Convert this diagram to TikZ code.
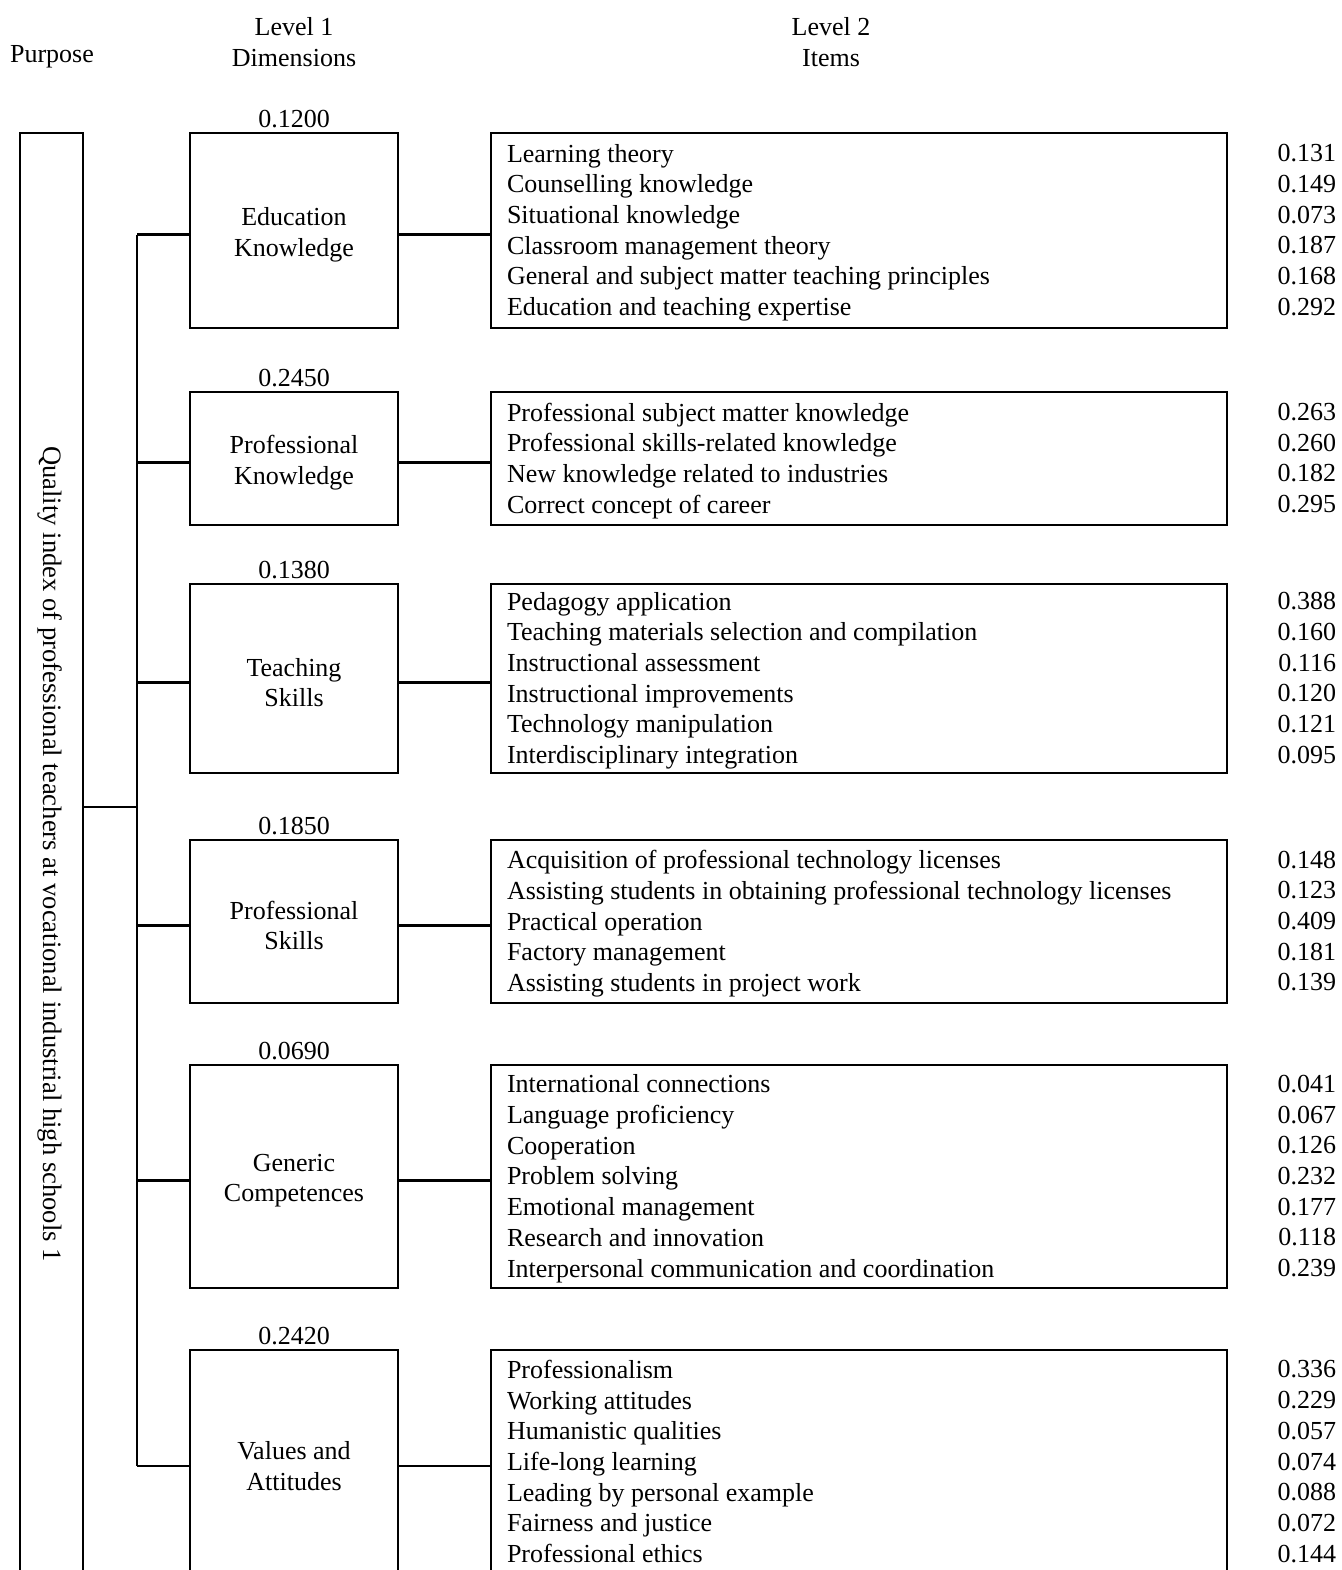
\documentclass[tikz,border=0pt]{standalone}
\usepackage{fontspec}
\setmainfont{Liberation Serif}
\begin{document}
\begin{tikzpicture}[x=0.5pt,y=-0.5pt,
  every node/.style={font=\fontsize{13pt}{15.35pt}\selectfont, inner sep=0pt, outer sep=0pt},
  dimbox/.style={draw, line width=1.1pt, minimum width=104pt, align=center},
  dimtext/.style={align=center},
  itembox/.style={draw, line width=1.1pt, minimum width=368pt},
  itemtext/.style={align=left, anchor=west, execute at begin node=\strut, execute at end node=\strut},
  weights/.style={align=right, anchor=east, execute at begin node=\strut, execute at end node=\strut},
  dimweight/.style={anchor=base},
  conn/.style={line width=1.1pt}
]
\useasboundingbox (0,0) rectangle (1341,1570);
\clip (0,0) rectangle (1341,1570);

% headers
\node (hp) at (52,57) {Purpose};
\node[align=center] (h1) at (294,42) {Level 1\\Dimensions};
\node[align=center] (h2) at (831,42) {Level 2\\Items};

% purpose box
\node[draw, line width=1.1pt, minimum width=31.5pt, minimum height=721pt] (purpose) at (51.5,854) {};
\node[rotate=-90, font=\fontsize{13.3pt}{15.35pt}\selectfont] (ptext) at (49.5,854) {Quality index of professional teachers at vocational industrial high schools 1};

\coordinate (trunk) at (137,0);
\coordinate (pj) at (137,807);

% dimension boxes
\node[dimbox, minimum height=97.5pt] (d1) at (294,230.5) {};
\node[dimbox, minimum height=66.5pt] (d2) at (294,458.5) {};
\node[dimbox, minimum height=94.5pt] (d3) at (294,678.5) {};
\node[dimbox, minimum height=81.5pt] (d4) at (294,921.5) {};
\node[dimbox, minimum height=111.5pt] (d5) at (294,1176.5) {};
\node[dimbox, minimum height=112pt] (d6) at (294,1462) {};

\node[dimtext] (dt1) at ([yshift=-2pt]d1.center) {Education\\Knowledge};
\node[dimtext] (dt2) at ([yshift=-2pt]d2.center) {Professional\\Knowledge};
\node[dimtext] (dt3) at ([yshift=-2pt]d3.center) {Teaching\\Skills};
\node[dimtext] (dt4) at ([yshift=-2pt]d4.center) {Professional\\Skills};
\node[dimtext] (dt5) at ([yshift=-2pt]d5.center) {Generic\\Competences};
\node[dimtext] (dt6) at ([yshift=-2pt]d6.center) {Values and\\Attitudes};

\node[dimweight] (w1) at ([yshift=3pt]d1.north) {0.1200};
\node[dimweight] (w2) at ([yshift=3pt]d2.north) {0.2450};
\node[dimweight] (w3) at ([yshift=3pt]d3.north) {0.1380};
\node[dimweight] (w4) at ([yshift=3pt]d4.north) {0.1850};
\node[dimweight] (w5) at ([yshift=3pt]d5.north) {0.0690};
\node[dimweight] (w6) at ([yshift=3pt]d6.north) {0.2420};

% item boxes
\node[itembox, minimum height=97.5pt] (i1) at (859,230.5) {};
\node[itembox, minimum height=66.5pt] (i2) at (859,458.5) {};
\node[itembox, minimum height=94.5pt] (i3) at (859,678.5) {};
\node[itembox, minimum height=81.5pt] (i4) at (859,921.5) {};
\node[itembox, minimum height=111.5pt] (i5) at (859,1176.5) {};
\node[itembox, minimum height=112pt] (i6) at (859,1462) {};

\node[itemtext] (t1) at ([xshift=8pt,yshift=-2pt]i1.west) {Learning theory\\Counselling knowledge\\Situational knowledge\\Classroom management theory\\General and subject matter teaching principles\\Education and teaching expertise};
\node[itemtext] (t2) at ([xshift=8pt,yshift=-2pt]i2.west) {Professional subject matter knowledge\\Professional skills-related knowledge\\New knowledge related to industries\\Correct concept of career};
\node[itemtext] (t3) at ([xshift=8pt,yshift=-2pt]i3.west) {Pedagogy application\\Teaching materials selection and compilation\\Instructional assessment\\Instructional improvements\\Technology manipulation\\Interdisciplinary integration};
\node[itemtext] (t4) at ([xshift=8pt,yshift=-2pt]i4.west) {Acquisition of professional technology licenses\\Assisting students in obtaining professional technology licenses\\Practical operation\\Factory management\\Assisting students in project work};
\node[itemtext] (t5) at ([xshift=8pt,yshift=-2pt]i5.west) {International connections\\Language proficiency\\Cooperation\\Problem solving\\Emotional management\\Research and innovation\\Interpersonal communication and coordination};
\node[itemtext] (t6) at ([xshift=8pt,yshift=-2pt]i6.west) {Professionalism\\Working attitudes\\Humanistic qualities\\Life-long learning\\Leading by personal example\\Fairness and justice\\Professional ethics};

% item weights
\node[weights] (v1) at ([yshift=-2pt]1336,230.5) {0.131\\0.149\\0.073\\0.187\\0.168\\0.292};
\node[weights] (v2) at ([yshift=-2pt]1336,458.5) {0.263\\0.260\\0.182\\0.295};
\node[weights] (v3) at ([yshift=-2pt]1336,678.5) {0.388\\0.160\\0.116\\0.120\\0.121\\0.095};
\node[weights] (v4) at ([yshift=-2pt]1336,921.5) {0.148\\0.123\\0.409\\0.181\\0.139};
\node[weights] (v5) at ([yshift=-2pt]1336,1176.5) {0.041\\0.067\\0.126\\0.232\\0.177\\0.118\\0.239};
\node[weights] (v6) at ([yshift=-2pt]1336,1462) {0.336\\0.229\\0.057\\0.074\\0.088\\0.072\\0.144};

% connectors
\draw[conn] (purpose.east |- pj) -- (pj);
\draw[conn] ([yshift=-2pt]d1.west -| trunk) -- ([yshift=-2pt]d6.west -| trunk);
\foreach \k in {1,...,6}{
  \draw[conn] ([yshift=-2pt]d\k.west) -- ([yshift=-2pt]d\k.west -| trunk);
  \draw[conn] ([yshift=-2pt]d\k.east) -- ([yshift=-2pt]i\k.west);
}
\end{tikzpicture}
\end{document}
